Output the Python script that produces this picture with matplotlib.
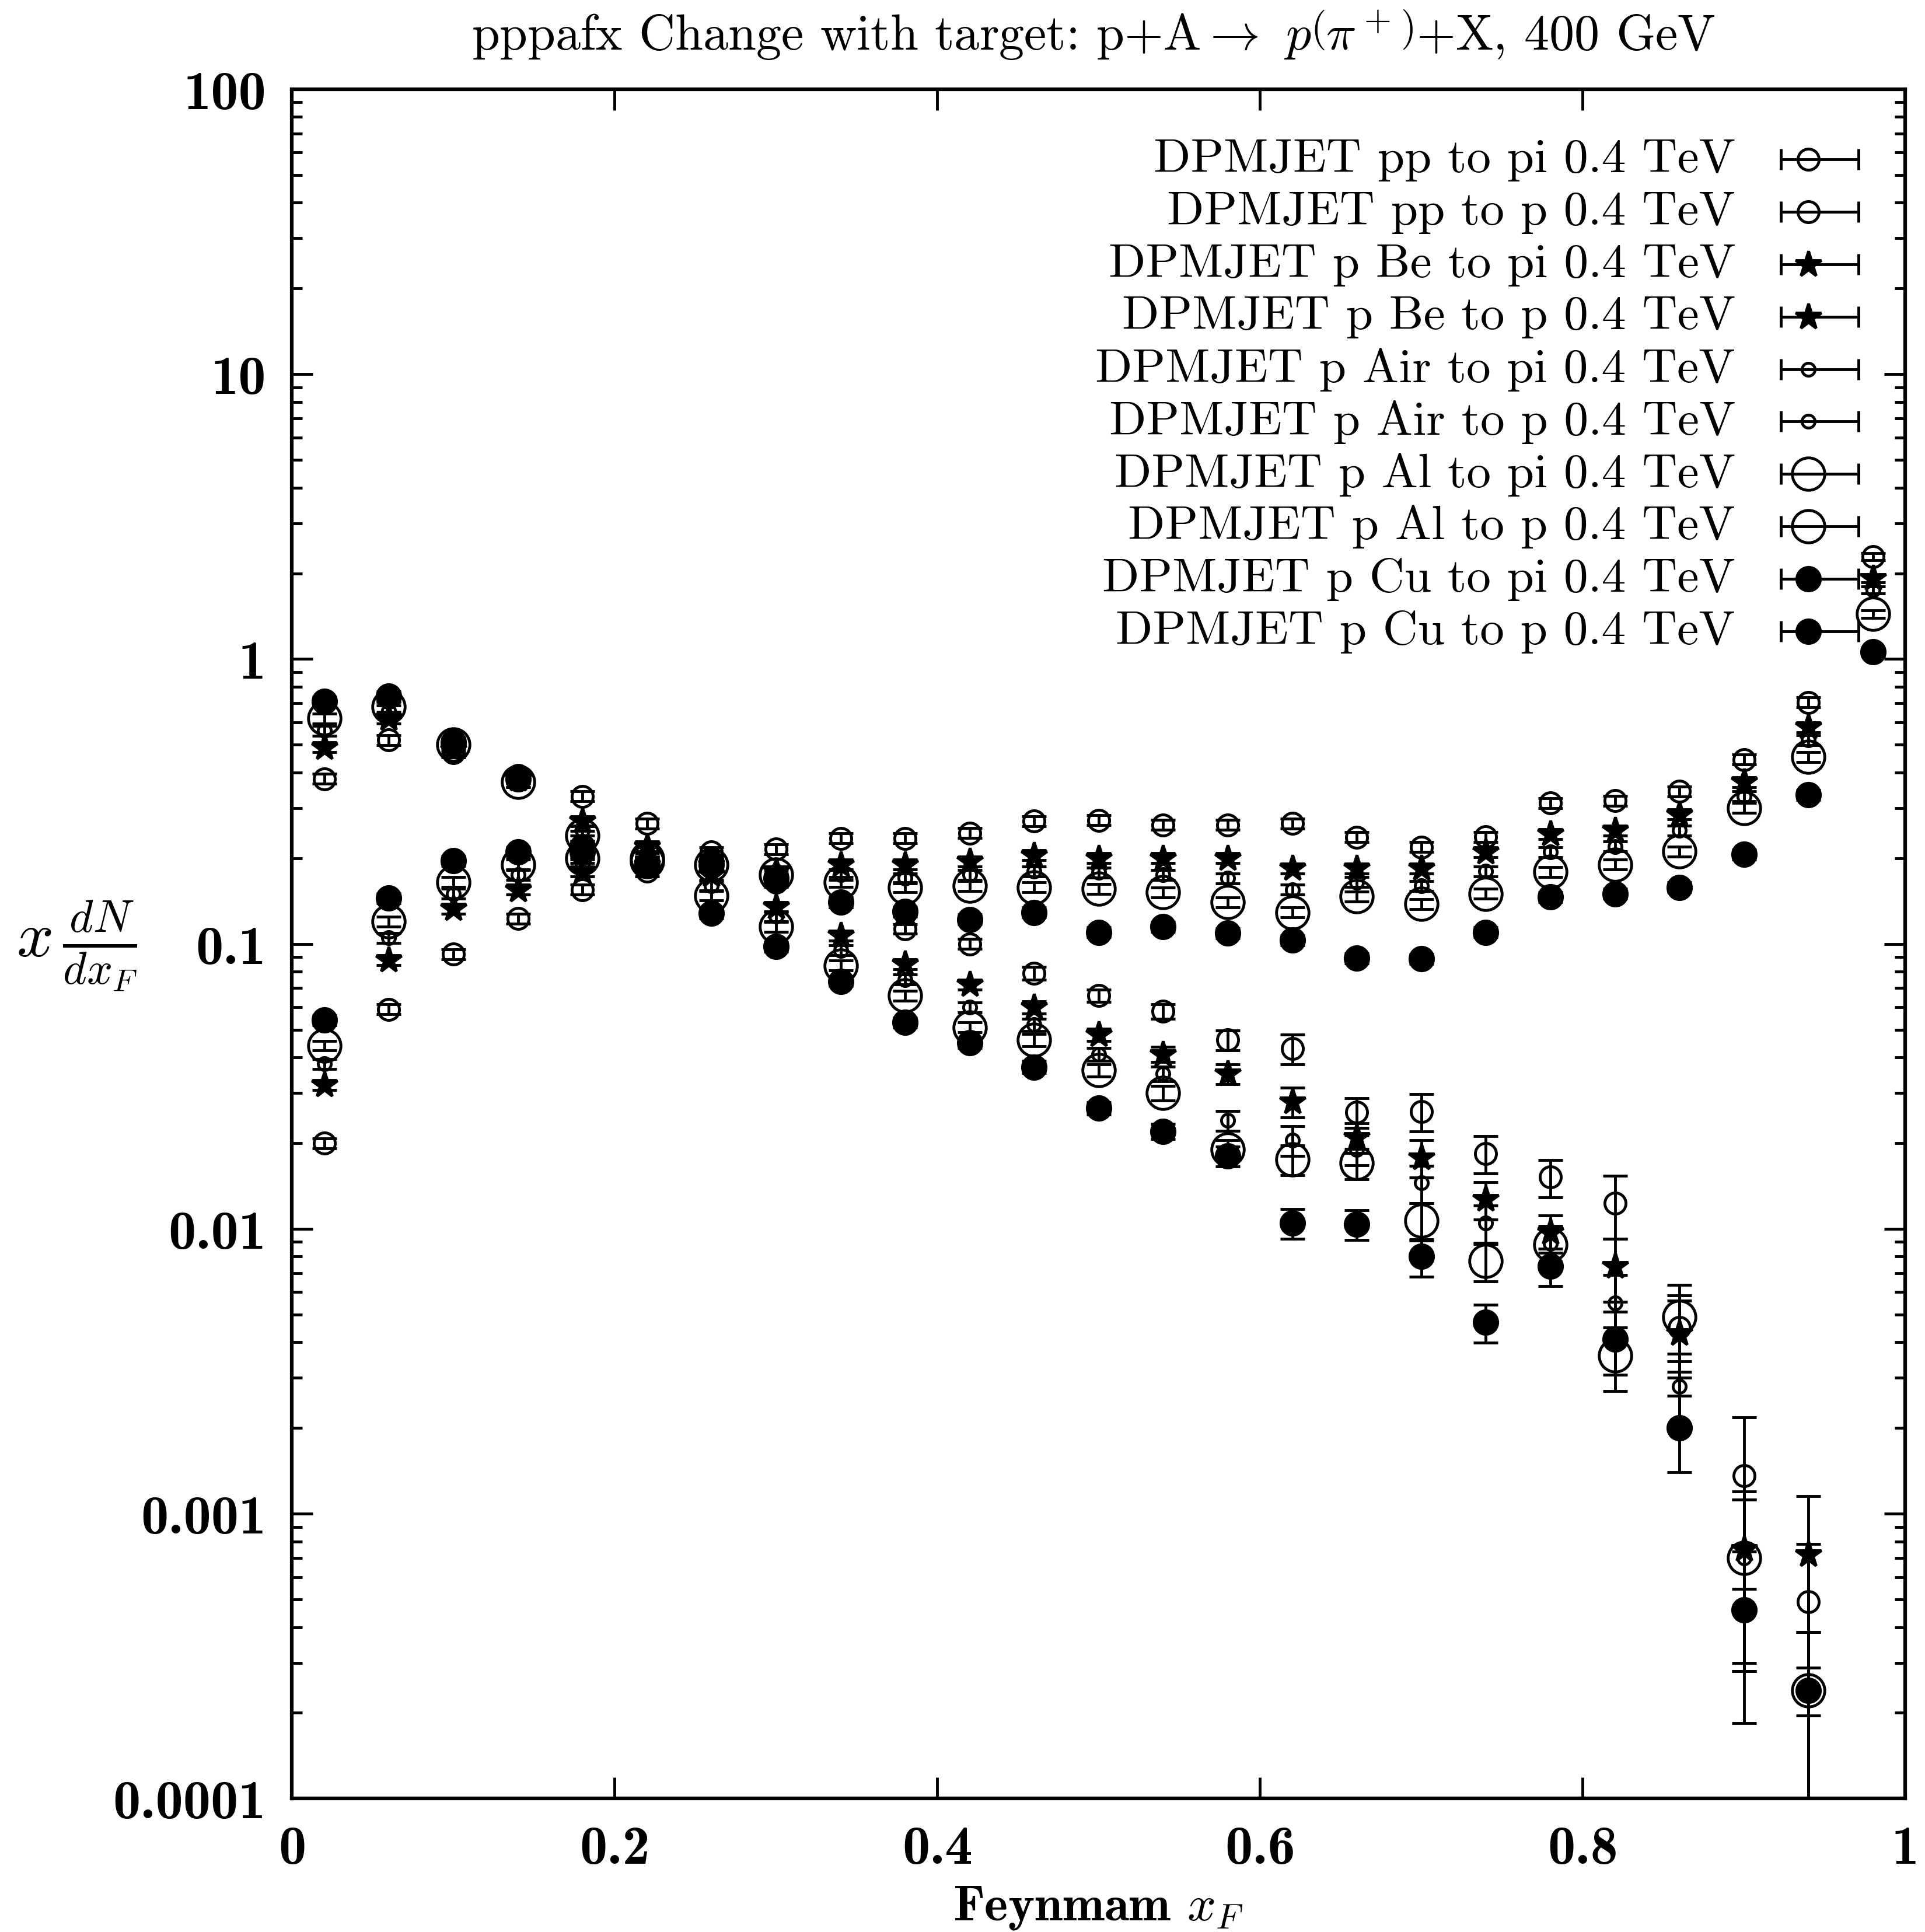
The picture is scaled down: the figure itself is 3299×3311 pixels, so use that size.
import matplotlib.pyplot as plt
import numpy as np

plt.rcParams['font.family'] = 'cmr10'
plt.rcParams['mathtext.fontset'] = 'cm'
plt.rcParams['axes.unicode_minus'] = False

xf = [0.02, 0.06, 0.10, 0.14, 0.18, 0.22, 0.26, 0.30, 0.34, 0.38, 0.42, 0.46, 0.50,
      0.54, 0.58, 0.62, 0.66, 0.70, 0.74, 0.78, 0.82, 0.86, 0.90, 0.94, 0.98]
nan = np.nan

# pions
pp_pi = [0.38, 0.52, 0.47, 0.39, 0.33, 0.265, 0.21, 0.165, 0.14, 0.113, 0.100, 0.079, 0.066,
         0.058, 0.046, 0.043, 0.0257, 0.0258, 0.0184, 0.0152, 0.0123, 0.0045, 0.00136, 0.00049, nan]
be_pi = [0.49, 0.62, 0.48, 0.38, 0.27, 0.22, 0.175, 0.135, 0.107, 0.085, 0.072, 0.060, 0.048,
         0.041, 0.035, 0.028, 0.021, 0.0178, 0.0127, 0.0097, 0.0074, 0.0043, 0.00075, 0.00072, nan]
air_pi = [0.56, 0.66, 0.49, 0.37, 0.25, 0.21, 0.16, 0.125, 0.095, 0.075, 0.060, 0.052, 0.041,
          0.035, 0.024, 0.0205, 0.019, 0.0145, 0.0105, 0.0089, 0.0055, 0.0028, 0.0007, nan, nan]
al_pi = [0.62, 0.68, 0.50, 0.37, 0.24, 0.20, 0.148, 0.115, 0.084, 0.066, 0.051, 0.046, 0.036,
         0.030, 0.019, 0.0175, 0.017, 0.0107, 0.0077, 0.0088, 0.0036, 0.0049, 0.0007, 0.00024, nan]
cu_pi = [0.71, 0.74, 0.51, 0.38, 0.22, 0.19, 0.128, 0.098, 0.074, 0.053, 0.045, 0.037, 0.0265,
         0.022, 0.018, 0.0105, 0.0104, 0.0080, 0.0047, 0.0074, 0.0041, 0.0020, 0.00046, 0.00024, nan]

# protons
pp_p = [0.020, 0.059, 0.092, 0.123, 0.155, 0.18, 0.195, 0.215, 0.235, 0.235, 0.245, 0.27, 0.272,
        0.262, 0.262, 0.265, 0.237, 0.219, 0.238, 0.312, 0.318, 0.343, 0.444, 0.705, 2.29]
be_p = [0.032, 0.088, 0.133, 0.155, 0.18, 0.19, 0.19, 0.18, 0.19, 0.19, 0.195, 0.205, 0.20,
        0.20, 0.20, 0.184, 0.184, 0.184, 0.21, 0.243, 0.25, 0.285, 0.37, 0.577, 1.92]
air_p = [0.038, 0.105, 0.15, 0.175, 0.19, 0.195, 0.19, 0.18, 0.175, 0.17, 0.175, 0.18, 0.178,
         0.175, 0.17, 0.155, 0.165, 0.16, 0.18, 0.21, 0.22, 0.25, 0.33, 0.52, 1.75]
al_p = [0.044, 0.12, 0.165, 0.19, 0.20, 0.195, 0.19, 0.175, 0.165, 0.158, 0.16, 0.158, 0.156,
        0.152, 0.14, 0.129, 0.147, 0.138, 0.150, 0.179, 0.190, 0.211, 0.30, 0.453, 1.44]
cu_p = [0.054, 0.145, 0.196, 0.21, 0.21, 0.19, 0.19, 0.17, 0.14, 0.13, 0.122, 0.129, 0.110,
        0.115, 0.109, 0.103, 0.089, 0.0886, 0.110, 0.146, 0.150, 0.158, 0.206, 0.334, 1.06]

# relative error sizes
rel_err_pi = [0.04, 0.04, 0.04, 0.04, 0.04, 0.04, 0.04, 0.04, 0.04, 0.04, 0.04, 0.05, 0.05,
              0.06, 0.08, 0.12, 0.12, 0.15, 0.15, 0.15, 0.25, 0.3, 0.6, 0.6, 0.6]
rel_err_p = [0.04, 0.04, 0.04, 0.04, 0.04, 0.04, 0.04, 0.04, 0.04, 0.04, 0.04, 0.04, 0.04,
             0.04, 0.04, 0.04, 0.04, 0.04, 0.04, 0.04, 0.04, 0.04, 0.04, 0.04, 0.03]

labels = ['DPMJET pp to pi 0.4 TeV', 'DPMJET pp to p 0.4 TeV',
          'DPMJET p Be to pi 0.4 TeV', 'DPMJET p Be to p 0.4 TeV',
          'DPMJET p Air to pi 0.4 TeV', 'DPMJET p Air to p 0.4 TeV',
          'DPMJET p Al to pi 0.4 TeV', 'DPMJET p Al to p 0.4 TeV',
          'DPMJET p Cu to pi 0.4 TeV', 'DPMJET p Cu to p 0.4 TeV']
series = [pp_pi, pp_p, be_pi, be_p, air_pi, air_p, al_pi, al_p, cu_pi, cu_p]

# marker style per target: (marker, size, filled)
styles = [('o', 26, False), ('*', 33, True), ('o', 16, False), ('o', 40, False), ('o', 29, True)]

fig = plt.figure(figsize=(32.99, 33.12), dpi=100)
ax = fig.add_axes([0.1517, 0.0690, 0.8381, 0.8845])

for i, (lab, y) in enumerate(zip(labels, series)):
    m, ms, filled = styles[i // 2]
    y = np.array(y)
    rel = np.array(rel_err_pi if i % 2 == 0 else rel_err_p)
    ax.errorbar(xf, y, yerr=y * rel, fmt=m, ms=ms, mec='k',
                mfc='k' if filled else 'none', mew=3.5, ecolor='k',
                elinewidth=3.5, capsize=15, capthick=3.5, linestyle='none')

    # hand-made gnuplot style key
    ly = 0.9589 - 0.03065 * i
    ax.text(0.8946, ly, lab, transform=ax.transAxes, ha='right', va='center', fontsize=60)
    ax.plot([0.9228, 0.9710], [ly, ly], transform=ax.transAxes, color='k', lw=3.5)
    ax.plot([0.9228, 0.9710], [ly, ly], transform=ax.transAxes, ls='none',
            marker='|', ms=26, mew=3.5, color='k')
    ax.plot([0.9400], [ly], transform=ax.transAxes, marker=m, ms=ms, mec='k',
            mfc='k' if filled else 'none', mew=3.5, ls='none')

ax.set_yscale('log')
ax.set_xlim(0, 1)
ax.set_ylim(1e-4, 100)
ax.set_xticks([0, 0.2, 0.4, 0.6, 0.8, 1])
ax.set_xticklabels(['0', '0.2', '0.4', '0.6', '0.8', '1'], fontfamily='cmb10', fontsize=68)
ax.set_yticks([1e-4, 1e-3, 1e-2, 1e-1, 1, 10, 100])
ax.set_yticklabels(['0.0001', '0.001', '0.01', '0.1', '1', '10', '100'],
                   fontfamily='cmb10', fontsize=68)
ax.tick_params(which='both', direction='in', top=True, right=True, width=3.5)
ax.tick_params(which='major', length=26, pad=32)
ax.tick_params(which='minor', length=13)
ax.tick_params(axis='x', which='minor', bottom=False, top=False)
for s in ax.spines.values():
    s.set_linewidth(4.5)

fig.text(0.5705, 0.0127, r'Feynmam $x_F$', ha='center', va='center',
         fontfamily='cmb10', fontsize=62)
fig.text(0.040, 0.5105, r'$x\,\frac{dN}{dx_F}$', ha='center', va='center', fontsize=80)
fig.text(0.568, 0.982, r'pppafx Change with target: p+A$\rightarrow$ $p\left(\pi^+\right)$+X, 400 GeV',
         ha='center', va='center', fontsize=62)

fig.savefig('out.png', dpi=100)
